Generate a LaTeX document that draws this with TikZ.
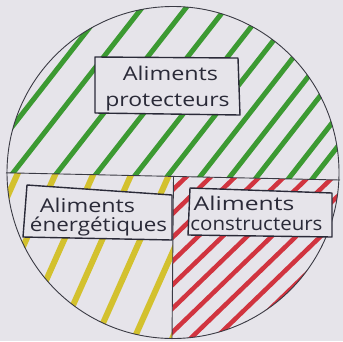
\documentclass[tikz,border=0pt]{standalone}
\usepackage{fontspec}
\setmainfont{Open Sans}
\usepackage{graphicx}
\definecolor{bg}{HTML}{E6E4EA}
\definecolor{hgreen}{HTML}{3C9A32}
\definecolor{hyellow}{HTML}{D3C12E}
\definecolor{hred}{HTML}{D1343F}
\definecolor{ink}{HTML}{2A2A38}
\definecolor{pen}{HTML}{3A3A44}
\newcommand\hwtext[2]{\scalebox{#1}[1]{#2}}
\begin{document}
\begin{tikzpicture}[x=1pt,y=-1pt,
  greenhatch/.style={draw=hgreen,line width=5pt,line cap=round},
  yellowhatch/.style={draw=hyellow,line width=6pt,line cap=round},
  redhatch/.style={draw=hred,line width=4.5pt,line cap=round},
  labelbox/.style={draw=ink,fill=bg,line width=1.4pt,line join=round},
  penline/.style={draw=pen,line width=0.9pt},
  txt/.style={inner sep=0pt,anchor=base,text=ink,font=\fontsize{19}{23}\selectfont}]
\useasboundingbox (0,0) rectangle (343,341);
\fill[bg] (0,0) rectangle (343,341);
\coordinate (C) at (173,172.5);
\coordinate (DL) at (6,172.8);
\coordinate (DR) at (340,180);
\coordinate (VT) at (173.5,176.5);
\coordinate (VB) at (172,339);
% green hatching (top half)
\begin{scope}
  \clip (C) circle (166);
  \clip (0,0) -- (343,0) -- (343,180.1) -- (0,172.8) -- cycle;
  \foreach \x in {-24,13,57,97,137,170,203,233,260,293,317}
    \draw[greenhatch] ({\x-21.1},200) -- ({\x+135.1},0);
\end{scope}
% yellow hatching (bottom left)
\begin{scope}
  \clip (C) circle (166);
  \clip (0,172.8) -- (173.5,176.5) -- (172,345) -- (0,345) -- cycle;
  \foreach \x in {17,55,93,131,169,207,245}
    \draw[yellowhatch] ({\x-75.7},345) -- ({\x+4.45},165);
\end{scope}
% red hatching (bottom right)
\begin{scope}
  \clip (C) circle (166);
  \clip (173.5,176.5) -- (343,180.1) -- (343,345) -- (172,345) -- cycle;
  \foreach \k in {0,...,13}
    \draw[redhatch] ({183+24.5*\k-186.3},360) -- ({183+24.5*\k+20.7},160);
\end{scope}
% dividers and circle
\draw[penline] (DL) -- (DR);
\draw[penline] (VT) -- (VB);
\draw[penline] (C) circle (166);
% label boxes
\draw[labelbox] (95,57) -- (238,58) -- (240,115) -- (95,113) -- cycle;
\draw[labelbox] (27,185) -- (172,195) -- (172,240) -- (23,237) -- cycle;
\draw[labelbox] (190,188) -- (332,193) -- (332,237) -- (188,235) -- cycle;
% texts
\node[txt] (pa) at (170.5,80.5) {\hwtext{1.23}{Aliments}};
\node[txt] (pb) at (167.5,106.5) {\hwtext{1.21}{protecteurs}};
\node[txt] (ea) at (87.5,212) {\hwtext{1.23}{Aliments}};
\node[txt] (eb) at (98.5,231.5) {\hwtext{1.18}{énergétiques}};
\node[txt] (ca) at (244,210.5) {\hwtext{1.3}{Aliments}};
\node[txt] (cb) at (256.5,230) {\hwtext{1.08}{constructeurs}};
\end{tikzpicture}
\end{document}
